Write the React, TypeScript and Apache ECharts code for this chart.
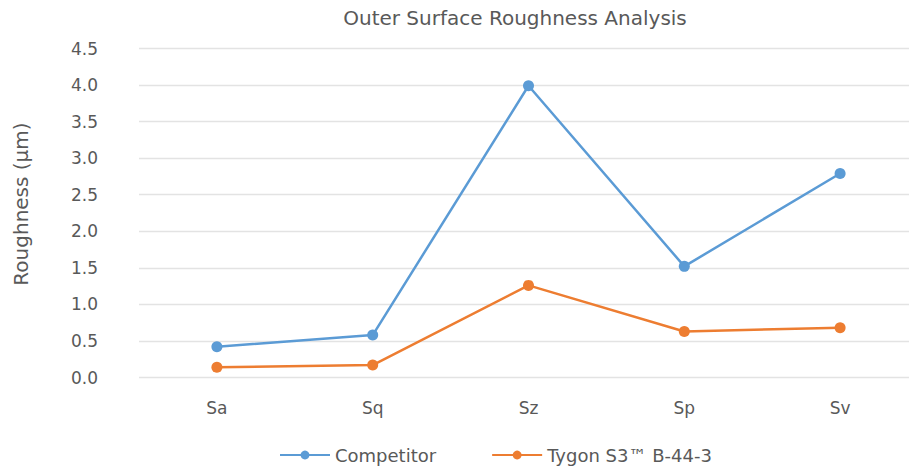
import React, { useEffect, useRef } from "react";
import * as echarts from "echarts";

const categories = ["Sa", "Sq", "Sz", "Sp", "Sv"];
const competitor = [0.42, 0.58, 3.99, 1.52, 2.79];
const tygon = [0.14, 0.17, 1.26, 0.63, 0.68];
const seriesNames = ["Competitor", "Tygon S3™ B-44-3"];
const titleText = "Outer Surface Roughness Analysis";
const yAxisName = "Roughness (µm)";

const FONT = "DejaVu Sans, sans-serif";
const TEXT = "#595959";

export default function App() {
  const ref = useRef<HTMLDivElement>(null);
  useEffect(() => {
    if (!ref.current) return;
    const chart = echarts.init(ref.current, undefined, { renderer: "svg" });
    chart.setOption({
      animation: false,
      backgroundColor: "#ffffff",
      title: {
        text: titleText,
        left: 510,
        textAlign: "center",
        top: 3,
        textStyle: { fontFamily: FONT, fontSize: 20, fontWeight: "normal", color: TEXT },
      },
      legend: {
        top: 441,
        left: 274,
        itemWidth: 50,
        itemHeight: 11,
        itemGap: 55,
        textStyle: { fontFamily: FONT, fontSize: 18, color: TEXT },
        data: seriesNames,
      },
      grid: {
        left: 139,
        top: 48.5,
        width: 779,
        height: 329,
        containLabel: false,
        outerBoundsMode: "none",
      },
      xAxis: {
        type: "category",
        data: categories,
        boundaryGap: true,
        axisLine: { show: false },
        axisTick: { show: false },
        axisLabel: { fontFamily: FONT, fontSize: 17, color: TEXT, margin: 22 },
      },
      yAxis: {
        type: "value",
        min: 0,
        max: 4.5,
        interval: 0.5,
        name: yAxisName,
        nameLocation: "middle",
        nameGap: 108,
        nameTextStyle: { fontFamily: FONT, fontSize: 20, color: TEXT, padding: [0, 0, 0, 18] },
        axisLine: { show: false },
        axisTick: { show: false },
        splitLine: { lineStyle: { color: "#e3e3e3", width: 1.3 } },
        axisLabel: {
          fontFamily: FONT,
          fontSize: 17,
          color: TEXT,
          margin: 41,
          formatter: (v: number) => v.toFixed(1),
        },
      },
      series: [
        {
          name: seriesNames[0],
          type: "line",
          data: competitor,
          symbol: "circle",
          symbolSize: 11,
          itemStyle: { color: "#5B9BD5" },
          lineStyle: { color: "#5B9BD5", width: 2.5 },
        },
        {
          name: seriesNames[1],
          type: "line",
          data: tygon,
          symbol: "circle",
          symbolSize: 11,
          itemStyle: { color: "#ED7D31" },
          lineStyle: { color: "#ED7D31", width: 2.5 },
        },
      ],
    });
    return () => chart.dispose();
  }, []);
  return (
    <div
      ref={ref}
      style={{ position: "fixed", left: 0, top: 0, width: 909, height: 467 }}
    />
  );
}
